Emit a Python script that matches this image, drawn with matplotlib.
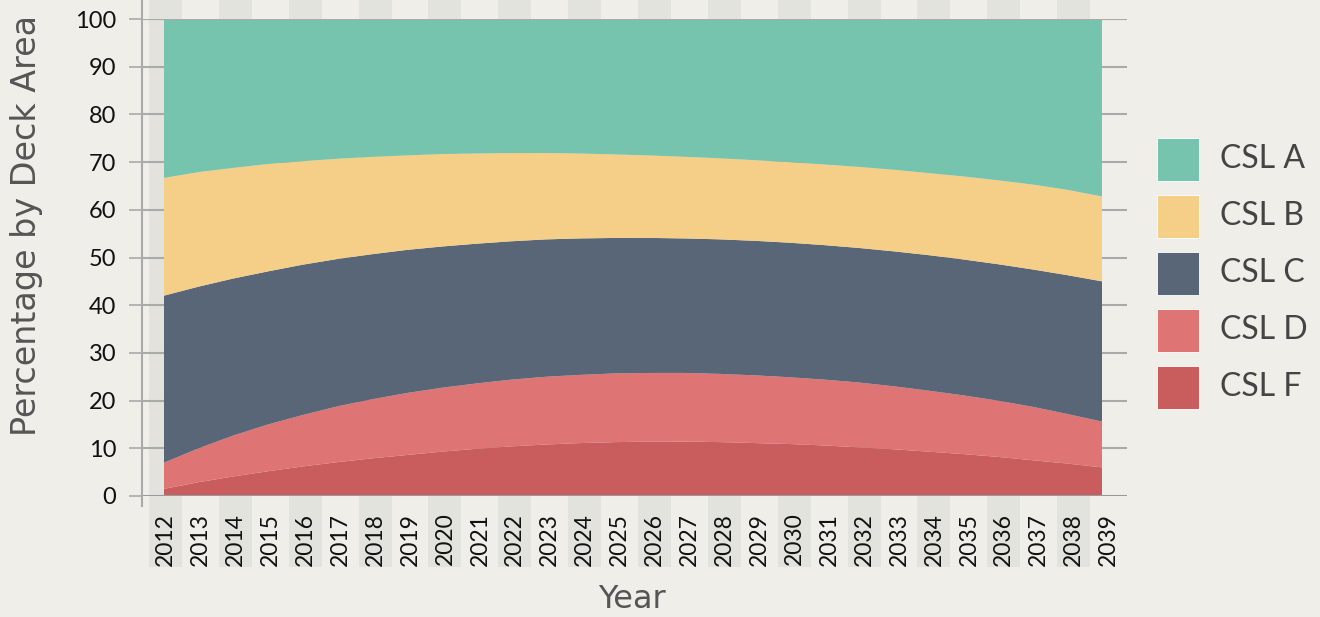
import matplotlib
matplotlib.use("Agg")
import matplotlib.pyplot as plt
from matplotlib.patches import Rectangle
from matplotlib.lines import Line2D
import matplotlib.transforms as mtransforms
import numpy as np

plt.rcParams['font.family'] = ['Lato', 'DejaVu Sans']

years = list(range(2012, 2040))
series_names = ["CSL A", "CSL B", "CSL C", "CSL D", "CSL F"]
csl_a = [33.3, 32.1, 31.2, 30.4, 29.8, 29.3, 28.9, 28.6, 28.3, 28.2, 28.1, 28.1, 28.2, 28.4,
         28.6, 28.9, 29.2, 29.6, 30.0, 30.5, 31.0, 31.6, 32.3, 33.0, 33.8, 34.7, 35.8, 37.2]
csl_b = [24.7, 24.0, 23.2, 22.5, 21.7, 21.0, 20.4, 19.8, 19.4, 18.9, 18.5, 18.1, 17.8, 17.5,
         17.3, 17.1, 17.0, 16.9, 16.9, 16.9, 17.0, 17.1, 17.2, 17.4, 17.6, 17.8, 17.9, 17.8]
csl_c = [35.0, 33.9, 32.9, 32.1, 31.5, 30.9, 30.4, 30.0, 29.6, 29.3, 29.0, 28.8, 28.6, 28.4,
         28.3, 28.2, 28.2, 28.2, 28.2, 28.2, 28.2, 28.3, 28.4, 28.5, 28.6, 28.8, 29.1, 29.4]
csl_d = [5.5, 7.1, 8.6, 9.8, 10.8, 11.7, 12.4, 13.0, 13.4, 13.7, 14.0, 14.2, 14.3, 14.4,
         14.4, 14.4, 14.3, 14.2, 14.0, 13.8, 13.6, 13.2, 12.8, 12.3, 11.8, 11.2, 10.4, 9.6]
csl_f = [1.5, 2.9, 4.1, 5.2, 6.2, 7.1, 7.9, 8.6, 9.3, 9.9, 10.4, 10.8, 11.1, 11.3,
         11.4, 11.4, 11.3, 11.1, 10.9, 10.6, 10.2, 9.8, 9.3, 8.8, 8.2, 7.5, 6.8, 6.0]
y_ticks = [0, 10, 20, 30, 40, 50, 60, 70, 80, 90, 100]

colors = {"CSL A": "#76c3ae", "CSL B": "#f5cf88", "CSL C": "#596677",
          "CSL D": "#df7474", "CSL F": "#c95d5d"}
bg = "#efeee8"
band = "#e3e3de"

W, H = 1320, 617
fig = plt.figure(figsize=(W / 100, H / 100), dpi=100, facecolor=bg)
ax_l, ax_r, ax_t, ax_b = 142, 1127, 19, 496
ax = fig.add_axes([ax_l / W, 1 - ax_b / H, (ax_r - ax_l) / W, (ax_b - ax_t) / H])
ax.set_facecolor("none")

x = np.arange(len(years))
px_per = (1102 - 164) / (len(years) - 1)
ax.set_xlim((ax_l - 164) / px_per, (ax_r - 164) / px_per)
ax.set_ylim(0, 100)

# category positions for labels/bands
pos = [0.043 + k * 1.0055 for k in range(len(years))]
trans = mtransforms.blended_transform_factory(ax.transData, ax.transAxes)
ah = ax_b - ax_t
y_top = 1 + ax_t / ah
y_bot = -(567 - ax_b) / ah
for k, p in enumerate(pos):
    if k % 2 == 0:
        ax.add_patch(Rectangle((p - 0.475, y_bot), 0.95, y_top - y_bot, transform=trans,
                               facecolor=band, edgecolor="none", clip_on=False, zorder=0))

# gridlines
for yt in y_ticks[1:]:
    ax.axhline(yt, color="#aaaaaa", lw=1.5, zorder=1)

stack_order = [csl_f, csl_d, csl_c, csl_b, csl_a]
stack_names = ["CSL F", "CSL D", "CSL C", "CSL B", "CSL A"]
ax.stackplot(x, *stack_order, colors=[colors[n] for n in stack_names],
             linewidth=0, zorder=2)

ax.axhline(0, color="#999999", lw=1.5, zorder=4)
ax.axhline(100, color="#aaaaaa", lw=1.5, zorder=4)
ax.add_line(Line2D([0, 0], [-(506 - ax_b) / ah, y_top], transform=ax.transAxes,
                   color="#aaaaaa", lw=1.5, clip_on=False, zorder=4))

for s in ax.spines.values():
    s.set_visible(False)

ax.set_yticks(y_ticks)
ax.set_yticklabels([str(v) for v in y_ticks])
ax.tick_params(axis="y", length=9.5, width=1.2, color="#aaaaaa", pad=9,
               labelsize=17, labelcolor="#111111")
ax.set_xticks(pos)
ax.set_xticklabels([str(y) for y in years], rotation=90)
ax.tick_params(axis="x", length=0, pad=12, labelsize=16.5, labelcolor="#111111")

fig.text(27 / W, 1 - 225 / H, "Percentage by Deck Area", rotation=90, ha="center",
         va="center", fontsize=24, color="#555555", family=["DejaVu Sans"])
fig.text(632 / W, 1 - 600 / H, "Year", ha="center", va="center", fontsize=23,
         color="#555555", family=["DejaVu Sans"])

# legend
for i, name in enumerate(series_names):
    cy = 159 + i * 57
    fig.add_artist(Rectangle((1157 / W, 1 - (cy + 21.5) / H), 42 / W, 43 / H,
                             transform=fig.transFigure, facecolor=colors[name],
                             edgecolor="#ffffff", linewidth=0.6, alpha=1))
    fig.text(1220 / W, 1 - cy / H, name, ha="left", va="center", fontsize=23,
             color="#444444")

fig.savefig("out.png", dpi=100, facecolor=bg)
